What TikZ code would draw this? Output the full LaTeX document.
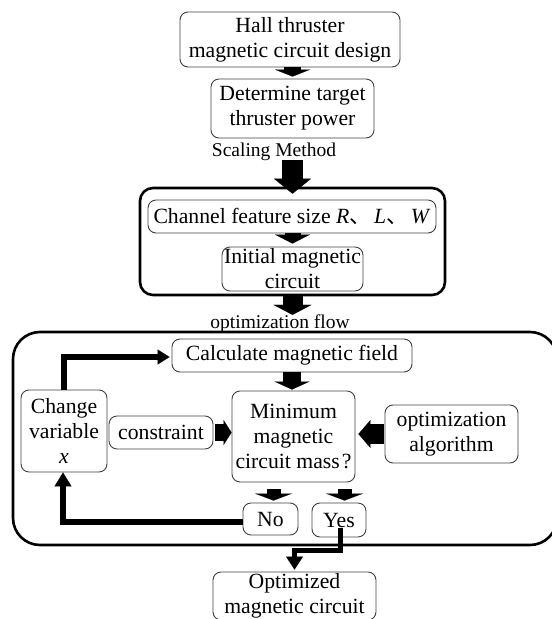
\documentclass[tikz,border=0pt]{standalone}
\usepackage{fontspec}
\setmainfont{Liberation Serif}
\newfontfamily\cjk{Noto Sans CJK SC}
\usetikzlibrary{arrows.meta}
\tikzset{
  box/.style={draw=black!75, line width=0.9pt, rounded corners=8pt, align=center, inner sep=0pt,
    font=\fontsize{21.7}{25}\selectfont},
  lbl/.style={inner sep=0pt, font=\fontsize{19.5}{22}\selectfont},
  grp/.style={draw=black, line width=2.6pt, rounded corners=#1, inner sep=0pt},
  blk/.style args={#1/#2/#3}{line width=#1pt, arrows={-Triangle[width=#2pt,length=#3pt,line width=0.1pt]}},
  loop/.style args={#1/#2/#3}{line width=#1pt, arrows={-Triangle[width=#2pt,length=#3pt,line width=0.1pt]}}
}
\begin{document}
\begin{tikzpicture}[x=1pt,y=-1pt]
\useasboundingbox (0,0) rectangle (552,619);
\clip (0,0) rectangle (552,619);

% top part
\node[box, minimum width=220pt, minimum height=55pt] (hall) at (290,39.5) {Hall thruster\\magnetic circuit design};
\node[box, minimum width=163pt, minimum height=59pt] (det) at (292.5,108.5) {Determine target\\thruster power};
\node[lbl] (scal) at (274,152) {Scaling Method};
\coordinate (bs) at (292.5,160);

\node[grp=13pt, minimum width=305pt, minimum height=107pt] (g1) at (292.5,241.5) {};
\node[box, minimum width=288pt, minimum height=33pt] (chan) at (292,216.5) {Channel feature size \textit{R}{\cjk 、}\hspace{3pt}\textit{L}{\cjk 、}\hspace{3pt}\textit{W}};
\node[box, minimum width=141pt, minimum height=44pt] (init) at (292.5,269) {Initial magnetic\\circuit};

\node[lbl] (of) at (280,324) {optimization flow};

% optimization group
\node[grp=27pt, minimum width=544pt, minimum height=213pt] (g2) at (285,438.5) {};
\node[box, minimum width=240pt, minimum height=33pt] (calc) at (292,355.5) {Calculate magnetic field};
\node[box, minimum width=86pt, minimum height=82pt] (chg) at (64,431) {Change\\variable\\\textit{x}};
\node[box, minimum width=104pt, minimum height=33pt] (cons) at (161,432.5) {constraint};
\node[box, minimum width=123pt, minimum height=91pt] (min) at (293.5,436.5) {Minimum\\magnetic\\circuit mass\hspace{2pt}?};
\node[box, minimum width=133pt, minimum height=58pt] (alg) at (451.5,434) {optimization\\algorithm};
\node[box, minimum width=55pt, minimum height=32pt] (no) at (270.5,519) {No};
\node[box, minimum width=54pt, minimum height=34pt] (yes) at (339,520) {Yes};

\node[box, minimum width=163pt, minimum height=48pt] (res) at (294.5,596) {Optimized\\magnetic circuit};

% block arrows
\draw[blk=17/35/7, shorten >=2pt] (hall.south -| det.north) -- (det.north);
\draw[blk=21/37/15] (bs) -- ([yshift=-7pt]g1.north);
\draw[blk=16/35/9, shorten >=3pt] (chan.south -| init.north) -- (init.north);
\draw[blk=20/38/10] (g1.south) -- (of.north -| g1.south);
\draw[blk=18/35/8, shorten >=1pt] (calc.south) -- (calc.south |- min.north);
\draw[blk=17/25/8, shorten <=2pt] (cons.east) -- (cons.east -| min.west);
\draw[blk=20/28/12, shorten <=1pt, shorten >=3pt] (alg.west) -- (alg.west -| min.east);
\draw[blk=14/37/7, shorten <=7pt, shorten >=2pt] ([xshift=3pt]no.north |- min.south) -- ([xshift=3pt]no.north);
\draw[blk=14/37/7, shorten <=7pt, shorten >=2pt] ([xshift=5.5pt]yes.north |- min.south) -- ([xshift=5.5pt]yes.north);

% loop connectors
\draw[loop=5.5/15/12, shorten >=2pt] (chg.north) |- ([yshift=-1.5pt]calc.west);
\draw[loop=6.5/17/14] ([yshift=-3pt]no.west) -| ([xshift=-1pt]chg.south);
\draw[loop=5/17/13, shorten >=2pt] ([xshift=1pt,yshift=-8pt]yes.center) -- ++(0,22) -| (res.north);
\end{tikzpicture}
\end{document}
